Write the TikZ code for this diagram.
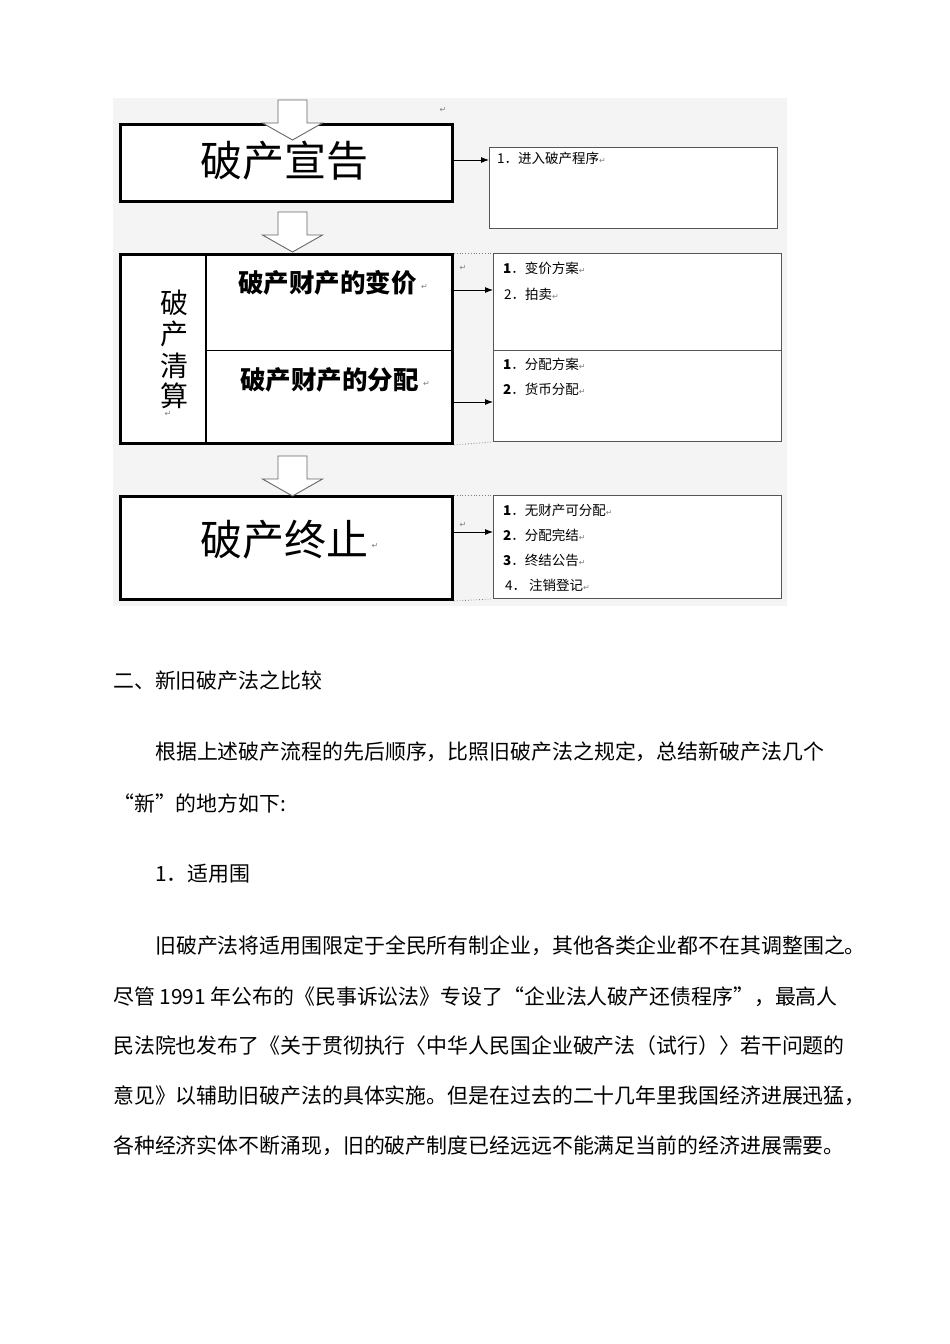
\documentclass[tikz,border=0pt]{standalone}
\usepackage{fontspec}
\setmainfont{Noto Sans CJK SC}
\newfontfamily\symfont{DejaVu Sans}
\usetikzlibrary{arrows.meta,calc}
\definecolor{bggray}{HTML}{F4F4F4}
\definecolor{edgegray}{HTML}{555555}
\tikzset{
  bigbox/.style={draw=black, line width=3pt, fill=white, inner sep=0pt, anchor=north west},
  rbox/.style={draw=edgegray, line width=0.9pt, fill=white, inner sep=0pt, anchor=north west},
  rtext/.style={anchor=west, inner sep=0pt, font=\fontsize{13.5}{15}\selectfont},
  ptext/.style={anchor=west, inner sep=0pt, font=\fontsize{20.9}{24}\selectfont},
  ret/.style={inner sep=0pt, text=gray, font=\symfont\fontsize{8}{9}\selectfont},
  conn/.style={-{Latex[length=8pt,width=6pt]}, line width=0.9pt},
  dotconn/.style={dotted, gray, line width=0.8pt},
  bigtitle/.style={font=\fontsize{42}{46}\selectfont, inner sep=0pt},
  subtitle/.style={font=\bfseries\fontsize{25.5}{28}\selectfont, inner sep=0pt, anchor=west},
  vchar/.style={font=\fontsize{28}{30}\selectfont, inner sep=0pt},
  blockarrow/.pic={\draw[draw=gray!80!black, fill=white, line width=0.9pt]
     (-14.5,-40) -- (14.5,-40) -- (14.5,-17) -- (30,-17) -- (0,0) -- (-30,-17) -- (-14.5,-17) -- cycle;}
}
\newcommand{\retmark}{\textcolor{gray}{\symfont\fontsize{8}{9}\selectfont ↵}}
\begin{document}
\begin{tikzpicture}[x=1pt,y=-1pt]
\useasboundingbox (0,0) rectangle (950,1344);
\fill[white] (0,0) rectangle (950,1344);
\fill[bggray] (113,98) rectangle (787,606);

% ---- stage 1
\node[bigbox, minimum width=332pt, minimum height=77pt] (b1) at (119,123) {};
\node[bigtitle] (t1) at (284,161) {破产宣告};
\node[rbox, minimum width=288pt, minimum height=81pt] (r1) at (489,147) {};
\node[rtext] (r1t) at (497,158) {1．进入破产程序\retmark};
\draw[conn] (b1.east |- 0,160) -- (r1.west |- 0,160);
\node[ret] (m1) at (443,110) {↵};
\pic at (292.5,140) {blockarrow};

% ---- stage 2
\node[bigbox, minimum width=332pt, minimum height=189pt] (b2) at (119,253) {};
\draw[line width=2pt] (206,253) -- (206,442);
\draw[line width=1pt] (206,350) -- (451,350);
\node[vchar] (c1) at (174,303) {破};
\node[vchar] (c2) at (174,334) {产};
\node[vchar] (c3) at (174,366) {清};
\node[vchar] (c4) at (174,396) {算};
\node[ret] (m2) at (168,414) {↵};
\node[subtitle] (t2a) at (238,283) {破产财产的变价};
\node[ret, anchor=west] (m3) at (421,287) {↵};
\node[subtitle] (t2b) at (240,380) {破产财产的分配};
\node[ret, anchor=west] (m4) at (423,384) {↵};
\node[rbox, minimum width=288pt, minimum height=97pt] (r2a) at (493,253) {};
\node[rbox, minimum width=288pt, minimum height=91pt] (r2b) at (493,350) {};
\node[rtext] (r2a1) at (503,268) {\textbf{1}．变价方案\retmark};
\node[rtext] (r2a2) at (504,294) {2．拍卖\retmark};
\node[rtext] (r2b1) at (503,364) {\textbf{1}．分配方案\retmark};
\node[rtext] (r2b2) at (503,389) {\textbf{2}．货币分配\retmark};
\node[ret] (m5) at (463,268) {↵};
\draw[conn] (b2.east |- 0,290) -- (r2a.west |- 0,290);
\draw[conn] (b2.east |- 0,402) -- (r2b.west |- 0,402);
\draw[dotconn] (b2.north east) -- (r2a.north west);
\draw[dotconn] (b2.south east) -- (r2b.south west);
\pic at (292.5,252) {blockarrow};

% ---- stage 3
\node[bigbox, minimum width=332pt, minimum height=103pt] (b3) at (119,495) {};
\node[bigtitle] (t3) at (284,540) {破产终止};
\node[ret] (m6) at (375,546) {↵};
\node[rbox, minimum width=288pt, minimum height=103pt] (r3) at (493,495) {};
\node[rtext] (r3a) at (503,510) {\textbf{1}．无财产可分配\retmark};
\node[rtext] (r3b) at (503,535) {\textbf{2}．分配完结\retmark};
\node[rtext] (r3c) at (503,560) {\textbf{3}．终结公告\retmark};
\node[rtext] (r3d) at (505,585) {4． 注销登记\retmark};
\node[ret] (m7) at (463,525) {↵};
\draw[conn] (b3.east |- 0,532) -- (r3.west |- 0,532);
\draw[dotconn] (b3.north east) -- (r3.north west);
\draw[dotconn] (b3.south east) -- (r3.south west);
\pic at (292.5,496) {blockarrow};

% ---- body text
\node[ptext] (h2) at (113,681) {二、新旧破产法之比较};
\node[ptext] (p1) at (155,752) {根据上述破产流程的先后顺序，比照旧破产法之规定，总结新破产法几个};
\node[ptext] (p2) at (113,803) {“新”的地方如下:};
\node[ptext] (p3) at (155,874) {1．适用围};
\node[ptext] (q1) at (155,946) {旧破产法将适用围限定于全民所有制企业，其他各类企业都不在其调整围之。};
\node[ptext] (q2) at (113,997) {尽管 1991 年公布的《民事诉讼法》专设了“企业法人破产还债程序”，最高人};
\node[ptext] (q3) at (113,1046) {民法院也发布了《关于贯彻执行〈中华人民国企业破产法（试行）〉若干问题的};
\node[ptext] (q4) at (113,1096) {意见》以辅助旧破产法的具体实施。但是在过去的二十几年里我国经济进展迅猛，};
\node[ptext] (q5) at (113,1146) {各种经济实体不断涌现，旧的破产制度已经远远不能满足当前的经济进展需要。};
\end{tikzpicture}
\end{document}
